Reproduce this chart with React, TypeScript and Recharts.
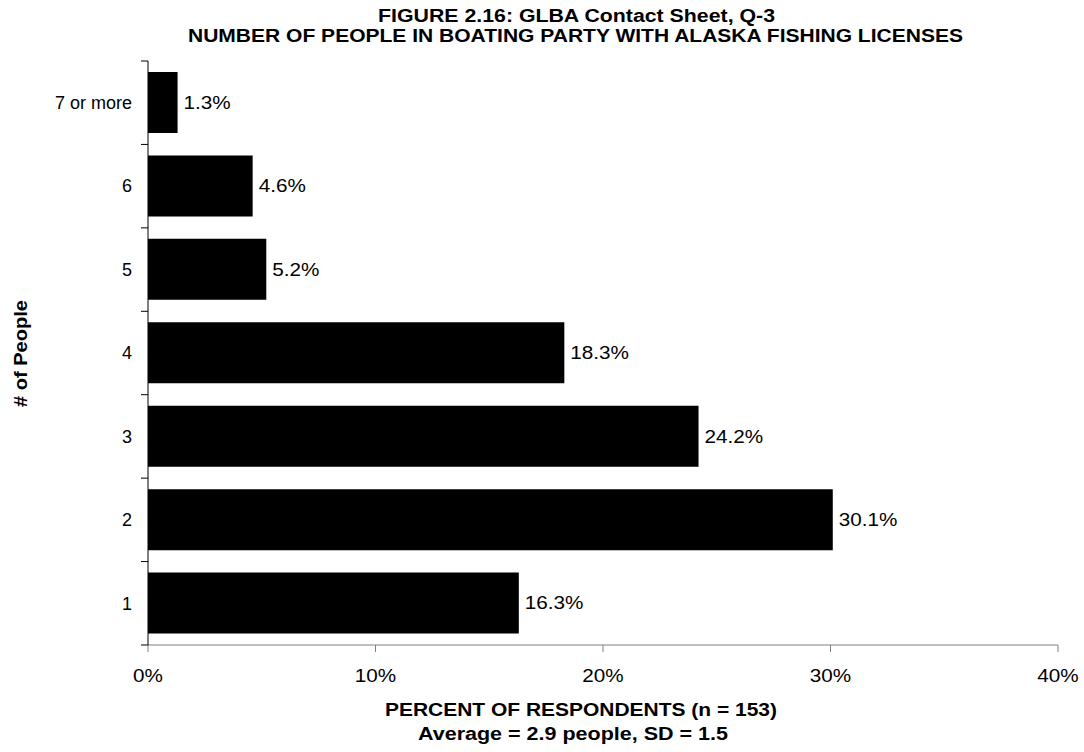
import React from "react";
import { BarChart, Bar, XAxis, YAxis, LabelList } from "recharts";

const categories = ["7 or more", "6", "5", "4", "3", "2", "1"];
const percents = [1.3, 4.6, 5.2, 18.3, 24.2, 30.1, 16.3];
const xTicks = [0, 10, 20, 30, 40];

const data = categories.map((c, i) => ({ people: c, pct: percents[i] }));

const FONT = "'Liberation Sans', Arial, sans-serif";
const PLOT_TOP = 61;
const PLOT_BOTTOM = 645;
const BAND = (PLOT_BOTTOM - PLOT_TOP) / categories.length;
const STRETCH = 1.15;

// text drawn a little wider than the font, like the original export
function Wide({ x, y, anchor = "start", size = 18, children, dy }: any) {
  return (
    <g transform={`translate(${x} ${y}) scale(${STRETCH} 1)`}>
      <text x={0} y={0} dy={dy} textAnchor={anchor} fontSize={size} fill="#000" fontFamily={FONT}>
        {children}
      </text>
    </g>
  );
}

function PeopleTick(props: any) {
  const { y, payload, index } = props;
  const axisX = 148;
  const last = index === categories.length - 1;
  return (
    <g>
      <line x1={axisX - 7} x2={axisX} y1={y - BAND / 2} y2={y - BAND / 2} stroke="#000" />
      {last && (
        <line x1={axisX - 7} x2={axisX} y1={y + BAND / 2} y2={y + BAND / 2} stroke="#000" />
      )}
      <text x={axisX - 16} y={y} dy="0.35em" textAnchor="end" fontSize={18} fill="#000" fontFamily={FONT}>
        {payload.value}
      </text>
    </g>
  );
}

function PctTick(props: any) {
  const { x, y, payload } = props;
  return (
    <Wide x={x} y={y + 30} anchor="middle" size={18}>
      {`${payload.value}%`}
    </Wide>
  );
}

function ValueLabel(props: any) {
  const { x, y, width, height, value } = props;
  return (
    <Wide x={x + width + 6} y={y + height / 2} dy="0.35em" size={18}>
      {`${value}%`}
    </Wide>
  );
}

export default function App() {
  return (
    <div style={{ position: "absolute", left: 0, top: 0, width: 1084, height: 752, background: "#fff", fontFamily: FONT }}>
      <svg width={1084} height={752} style={{ position: "absolute", left: 0, top: 0, pointerEvents: "none" }}>
        <g fontFamily={FONT} fontWeight="bold" fill="#000" style={{ whiteSpace: "pre" }}>
          <text x={378} y={22} fontSize={18} textLength={397} lengthAdjust="spacingAndGlyphs">
            {"FIGURE 2.16:  GLBA Contact Sheet, Q-3"}
          </text>
          <text x={188} y={42} fontSize={18} textLength={775} lengthAdjust="spacingAndGlyphs">
            NUMBER OF PEOPLE IN BOATING PARTY WITH ALASKA FISHING LICENSES
          </text>
          <text x={385} y={716} fontSize={19} textLength={392} lengthAdjust="spacingAndGlyphs">
            PERCENT OF RESPONDENTS (n = 153)
          </text>
          <text x={418} y={740} fontSize={18} textLength={310} lengthAdjust="spacingAndGlyphs">
            Average = 2.9 people, SD = 1.5
          </text>
          <text
            x={27}
            y={407}
            fontSize={19}
            textLength={107}
            lengthAdjust="spacingAndGlyphs"
            transform="rotate(-90 27 407)"
          >
            # of People
          </text>
        </g>
      </svg>
      <BarChart
        width={1084}
        height={752}
        data={data}
        layout="vertical"
        margin={{ top: PLOT_TOP, right: 26, left: 0, bottom: 77 }}
        style={{ position: "absolute", left: 0, top: 0 }}
      >
        <XAxis
          type="number"
          domain={[0, 40]}
          ticks={xTicks}
          height={30}
          tickSize={7}
          tickMargin={0}
          stroke="#808080"
          tick={<PctTick />}
          interval={0}
        />
        <YAxis
          type="category"
          dataKey="people"
          width={148}
          stroke="#000"
          tickLine={false}
          tick={<PeopleTick />}
          interval={0}
        />
        <Bar dataKey="pct" fill="#000" barSize={61} isAnimationActive={false}>
          <LabelList dataKey="pct" content={<ValueLabel />} />
        </Bar>
      </BarChart>
    </div>
  );
}
